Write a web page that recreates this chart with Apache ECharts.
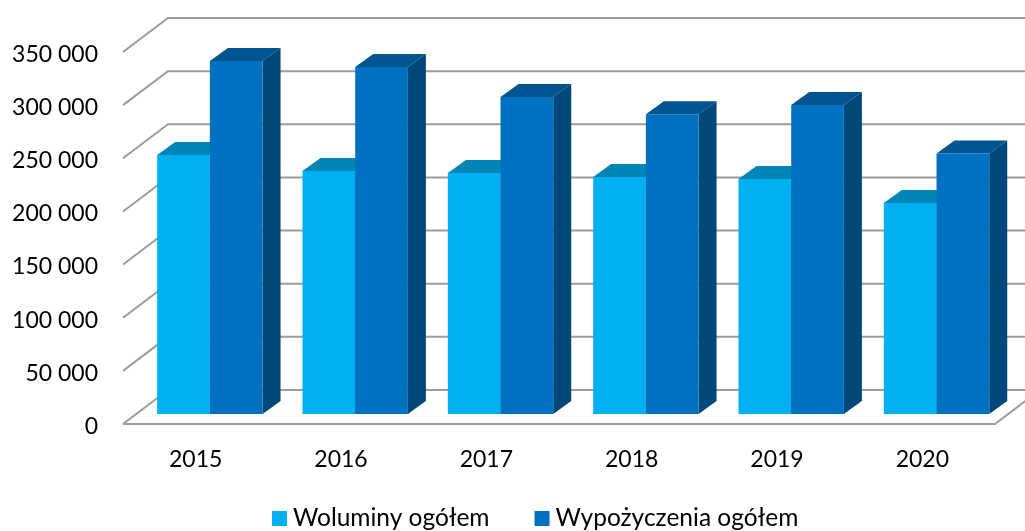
<!DOCTYPE html>
<html>
<head>
<meta charset="utf-8">
<style>html,body{margin:0;padding:0;background:#fff}#c{width:1025px;height:531px}</style>
<script src="https://cdn.jsdelivr.net/npm/echarts@6/dist/echarts.min.js"></script>
</head>
<body>
<div id="c"></div>
<script>
const years = ['2015', '2016', '2017', '2018', '2019', '2020'];
const woluminy = [243700, 228600, 226700, 223000, 221000, 198500];
const wypozyczenia = [332100, 326500, 298300, 282000, 290700, 245000];
const ticks = [0, 50000, 100000, 150000, 200000, 250000, 300000, 350000];

const FONT = 'Lato';
const wallDX = 45, wallDY = -34;
const barDX = 18, barDY = -13;
const planeDY = -10, pairShift = 14.2, barW = 52.7;

function wall(params, api) {
  const cs = params.coordSys;
  const y = api.coord([0, api.value(0)])[1];
  const l = cs.x, r = cs.x + cs.width;
  const children = [{
    type: 'polyline',
    shape: { points: [[l, y], [l + wallDX, y + wallDY], [1030, y + wallDY]] },
    style: { fill: 'none', stroke: '#9c9c9c', lineWidth: 2 }
  }];
  if (api.value(0) === 0) {
    children.push({
      type: 'polyline',
      shape: { points: [[l, y], [r, y], [r + wallDX, y + wallDY]] },
      style: { fill: 'none', stroke: '#9c9c9c', lineWidth: 2 }
    });
  }
  return { type: 'group', children };
}

function makeBar(offset, front, top, side) {
  return function (params, api) {
    const xv = api.value(0);
    const x0 = api.coord([xv, 0]);
    const x1 = api.coord([xv, api.value(1)]);
    const left = x0[0] + pairShift + offset;
    const right = left + barW;
    const base = x0[1] + planeDY;
    const tp = x1[1] + planeDY;
    return {
      type: 'group',
      children: [
        { type: 'polygon', shape: { points: [[left, tp], [right, tp], [right + barDX, tp + barDY], [left + barDX, tp + barDY]] }, style: { fill: top } },
        { type: 'polygon', shape: { points: [[right, tp], [right + barDX, tp + barDY], [right + barDX, base + barDY], [right, base]] }, style: { fill: side } },
        { type: 'rect', shape: { x: left, y: tp, width: barW, height: base - tp }, style: { fill: front } }
      ]
    };
  };
}

const chart = echarts.init(document.getElementById('c'), null, { renderer: 'canvas' });
chart.setOption({
  animation: false,
  backgroundColor: '#ffffff',
  grid: { left: 123, right: 30, top: 52, bottom: 107, containLabel: false },
  legend: {
    data: ['Woluminy ogółem', 'Wypożyczenia ogółem'],
    left: 267, top: 501,
    itemWidth: 15, itemHeight: 15, itemGap: 45,
    icon: 'rect',
    textStyle: { fontFamily: FONT, fontSize: 24.5, color: '#000', padding: [0, 0, 0, 1] }
  },
  xAxis: {
    type: 'category',
    data: years,
    axisLine: { show: false },
    axisTick: { show: false },
    axisLabel: { fontFamily: FONT, fontSize: 23, color: '#000', margin: 24 }
  },
  yAxis: {
    type: 'value',
    min: 0, max: 350000, interval: 50000,
    splitLine: { show: false },
    axisLine: { show: false },
    axisTick: { show: false },
    axisLabel: {
      fontFamily: FONT, fontSize: 23, color: '#000', margin: 25,
      verticalAlign: 'top', lineHeight: 5,
      formatter: v => String(v).replace(/\B(?=(\d{3})+$)/g, ' ')
    }
  },
  series: [
    {
      name: 'wall', type: 'custom', silent: true, clip: false, z: 1,
      coordinateSystem: 'cartesian2d', renderItem: wall,
      encode: { y: 0 }, data: ticks.map(t => [t])
    },
    {
      name: 'Woluminy ogółem', type: 'custom', z: 2, clip: false,
      itemStyle: { color: '#00B0F0' },
      renderItem: makeBar(-barW, '#00B0F0', '#0086B6', '#00699A'),
      encode: { x: 0, y: 1 }, data: woluminy.map((v, i) => [i, v])
    },
    {
      name: 'Wypożyczenia ogółem', type: 'custom', z: 3, clip: false,
      itemStyle: { color: '#0070C0' },
      renderItem: makeBar(0, '#0070C0', '#005490', '#00477A'),
      encode: { x: 0, y: 1 }, data: wypozyczenia.map((v, i) => [i, v])
    }
  ]
});
</script>
</body>
</html>
